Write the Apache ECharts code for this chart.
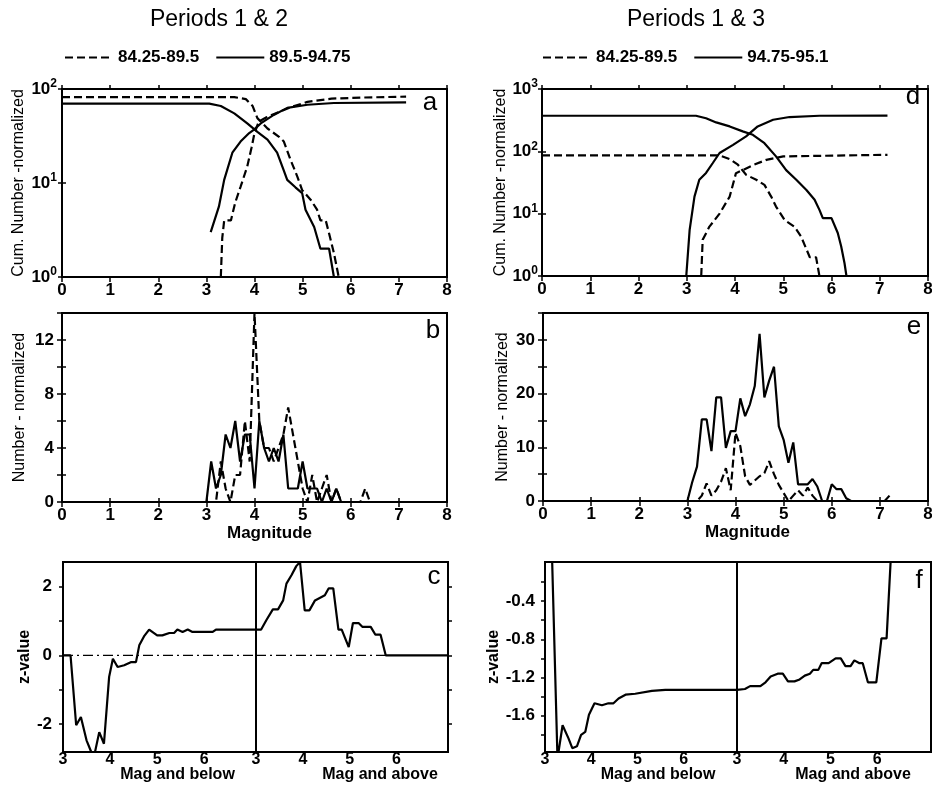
<!DOCTYPE html>
<html>
<head>
<meta charset="utf-8">
<script src="https://cdn.jsdelivr.net/npm/echarts@6/dist/echarts.min.js"></script>
<style>
  html, body {margin: 0; padding: 0; background: #fff;}
  #chart {width: 932px; height: 789px;}
</style>
</head>
<body>
<div id="chart"></div>
<script>
// ---- panel a: cumulative number, periods 1 & 2  [magnitude, count] ----
const aDashDown = [[0, 82], [3.58, 82], [3.82, 78], [3.96, 66], [4.06, 49], [4.27, 38], [4.51, 31], [4.61, 27.6],
  [4.75, 17.6], [4.89, 11.7], [4.99, 8.4], [5.17, 6.6], [5.3, 5.2], [5.37, 4], [5.48, 4], [5.55, 2.9], [5.65, 1.8], [5.75, 1]];
const aDashUp = [[3.3, 1], [3.33, 2.6], [3.37, 4], [3.51, 4], [3.6, 6.2], [3.71, 9.1], [3.85, 15], [3.94, 24],
  [4.0, 34], [4.09, 45], [4.25, 50], [4.47, 56], [4.75, 64], [5.1, 73], [5.6, 79], [6.2, 81], [7.15, 83]];
const aSolidDown = [[0, 70], [3.06, 70], [3.3, 66], [3.58, 55], [3.85, 43], [4.06, 35], [4.27, 29], [4.47, 21],
  [4.6, 14], [4.68, 10.8], [4.85, 9], [4.99, 7.8], [5.06, 5.2], [5.24, 3.4], [5.37, 2], [5.55, 2], [5.65, 1]];
const aSolidUp = [[3.09, 3], [3.26, 5.6], [3.37, 10.8], [3.54, 21], [3.71, 27.6], [3.89, 34], [3.99, 37], [4.13, 43],
  [4.4, 53], [4.68, 63], [5.1, 68], [5.65, 71], [7.15, 72]];

// ---- panel b: number per 0.1 magnitude bin, periods 1 & 2 ----
const bMag = [3.0, 3.1, 3.2, 3.3, 3.4, 3.5, 3.6, 3.7, 3.8, 3.9, 4.0, 4.1, 4.2, 4.3, 4.4, 4.5, 4.6, 4.7, 4.8, 4.9,
  5.0, 5.1, 5.2, 5.3, 5.4, 5.5, 5.6, 5.7, 5.8, 5.9, 6.0, 6.1, 6.2, 6.3, 6.4];
const bSolid = [0, 3, 1, 2, 5, 4, 6, 3, 5, 5, 1, 6, 4, 3, 4, 3, 5, 1, 1, 1, 3, 1, 1, 1, 0, 1, 0, 1, 0, 0, 0, 0, 0, 0, 0];
const bDash = [0, 0, 0, 3, 1, 0, 2, 2, 6, 3, 14, 6, 4, 4, 3, 4, 5, 7, 5, 3, 1, 0, 2, 0, 1, 2, 0, 1, 0, 0, 0, 0, 0, 1, 0];

// ---- panel c: z-value, periods 1 & 2 ----
const cBelow = [[3.0, 0], [3.16, 0], [3.28, -2.04], [3.38, -1.8], [3.5, -2.48], [3.6, -2.82], [3.68, -2.82],
  [3.77, -2.24], [3.87, -2.58], [3.98, -0.63], [4.06, -0.1], [4.16, -0.34], [4.3, -0.29], [4.44, -0.2], [4.55, -0.2],
  [4.62, 0.29], [4.72, 0.55], [4.83, 0.75], [5.0, 0.58], [5.11, 0.58], [5.26, 0.65], [5.36, 0.65], [5.43, 0.75],
  [5.54, 0.68], [5.65, 0.75], [5.75, 0.68], [6.18, 0.68], [6.25, 0.75], [7.1, 0.75]];
const cAbove = [[3.0, 0.75], [3.11, 0.75], [3.22, 1.02], [3.36, 1.34], [3.47, 1.34], [3.58, 1.6], [3.65, 2.09],
  [3.76, 2.34], [3.86, 2.6], [3.94, 2.72], [4.04, 1.31], [4.14, 1.31], [4.26, 1.6], [4.4, 1.7], [4.47, 1.75],
  [4.55, 1.95], [4.65, 1.95], [4.76, 0.75], [4.83, 0.75], [4.98, 0.24], [5.07, 0.94], [5.19, 0.94], [5.27, 0.83],
  [5.45, 0.83], [5.55, 0.6], [5.66, 0.6], [5.77, 0], [7.1, 0]];
const cZeroBelow = [[3.0, 0], [7.1, 0]];
const cZeroAbove = [[3.0, 0], [5.77, 0]];

// ---- panel d: cumulative number, periods 1 & 3 ----
const dDashDown = [[0, 86], [3.68, 86], [3.89, 75], [4.06, 61], [4.23, 42], [4.44, 35], [4.61, 29], [4.75, 18.8],
  [4.85, 13], [5.03, 7.9], [5.23, 6.2], [5.37, 4.3], [5.55, 2], [5.68, 2], [5.75, 1]];
const dDashUp = [[3.3, 1], [3.33, 3.8], [3.47, 6.2], [3.68, 10], [3.89, 18.8], [4.02, 44.7], [4.16, 50], [4.37, 60],
  [4.65, 73], [5.0, 83], [7.16, 88]];
const dSolidDown = [[0, 372], [3.19, 372], [3.4, 340], [3.61, 291], [3.89, 251], [4.16, 209], [4.37, 184], [4.61, 135],
  [4.85, 83], [5.06, 50], [5.27, 35], [5.48, 24], [5.65, 16.7], [5.75, 11.5], [5.82, 8.5], [6.0, 8.5], [6.13, 4.9],
  [6.2, 3], [6.27, 1.6], [6.31, 1]];
const dSolidUp = [[2.99, 1], [3.06, 5.5], [3.16, 18.8], [3.26, 35], [3.4, 45], [3.54, 65], [3.68, 94], [3.96, 127],
  [4.23, 174], [4.47, 251], [4.79, 321], [5.13, 355], [5.75, 372], [7.16, 375]];

// ---- panel e: number per 0.1 magnitude bin, periods 1 & 3 ----
const eMag = [3.0, 3.1, 3.2, 3.3, 3.4, 3.5, 3.6, 3.7, 3.8, 3.9, 4.0, 4.1, 4.2, 4.3, 4.4, 4.5, 4.6, 4.7, 4.8, 4.9,
  5.0, 5.1, 5.2, 5.3, 5.4, 5.5, 5.6, 5.7, 5.8, 5.9, 6.0, 6.1, 6.2, 6.3, 6.4, 6.5, 6.6, 6.7, 6.8, 6.9, 7.0, 7.1, 7.2];
const eSolid = [0, 3.5, 6.4, 15.2, 15.2, 9.3, 19.3, 19.3, 9.9, 13, 13, 19.1, 15.8, 18, 21.4, 31.1, 19.3, 22.4, 25, 13.9,
  11.4, 7.1, 10.9, 3.1, 3.1, 3.1, 4.1, 2.7, 0, 0, 3.1, 2.2, 2.2, 0.5, 0, 0, 0, 0, 0, 0, 0, 0, 1];
const eDash = [0, 0, 0, 1, 3.3, 1, 2, 3.6, 6.1, 2, 12.7, 10.2, 4.6, 3, 3.8, 4.6, 5.2, 7.4, 5, 3,
  1.5, 0, 1, 2, 1, 2.5, 1, 0, 0, 0, 0, 0, 0, 0, 0, 0, 0, 0, 0, 0, 0, 0, 0];

// ---- panel f: z-value, periods 1 & 3 ----
const fBelow = [[3.15, 0.1], [3.27, -2.05], [3.38, -1.7], [3.51, -1.84], [3.59, -1.94], [3.69, -1.92], [3.78, -1.8],
  [3.87, -1.77], [3.95, -1.59], [4.07, -1.47], [4.23, -1.49], [4.37, -1.47], [4.48, -1.47], [4.59, -1.42],
  [4.74, -1.38], [4.95, -1.37], [5.31, -1.34], [5.6, -1.33], [7.15, -1.33]];
const fAbove = [[3.0, -1.33], [3.17, -1.32], [3.28, -1.29], [3.5, -1.29], [3.61, -1.25], [3.72, -1.19], [3.87, -1.16],
  [3.98, -1.16], [4.09, -1.24], [4.23, -1.24], [4.34, -1.22], [4.45, -1.18], [4.56, -1.16], [4.63, -1.12],
  [4.74, -1.12], [4.81, -1.05], [4.96, -1.05], [5.11, -1.0], [5.22, -1.0], [5.32, -1.08], [5.43, -1.08],
  [5.51, -1.02], [5.62, -1.05], [5.69, -1.05], [5.8, -1.25], [5.98, -1.25], [6.09, -0.79], [6.2, -0.79], [6.29, 0.05]];

// tick labels
const zTicksC = [-2, 0, 2];
const zMinorC = [-2, -1, 0, 1, 2];
const zTicksF = [-0.4, -0.8, -1.2, -1.6];
const zMinorF = [-0.2, -0.4, -0.6, -0.8, -1.0, -1.2, -1.4, -1.6, -1.8];
const halfMagTicks = [3, 4, 5, 6];

const font = 'Liberation Sans, Arial, sans-serif';
const black = '#000';

const grid = (left, top, width, height) => ({
  left, top, width, height, show: true, borderColor: black, borderWidth: 2, outerBoundsMode: 'none'
});

const tick = (len, show = true) => ({show, inside: false, length: len, lineStyle: {color: black, width: 1.5}});
const labelStyle = (size, margin) => ({fontFamily: font, fontSize: size, fontWeight: 'bold', color: black, margin});

function axis(gridIndex, position, type, min, max, more) {
  return Object.assign({
    type, gridIndex, position, min, max,
    splitLine: {show: false},
    axisLine: {show: false},
    axisTick: tick(4),
    axisLabel: {show: false},
  }, more);
}

const logLabel = (margin) => Object.assign(labelStyle(17, margin), {
  formatter: v => '10{s|' + Math.round(Math.log10(v)) + '}',
  rich: {s: {fontFamily: font, fontSize: 12, fontWeight: 'bold', color: black, padding: [0, 0, 10, 0]}}
});
const nameStyle = (size, weight, pad) => ({fontFamily: font, fontSize: size, fontWeight: weight, color: black, padding: pad || 0});

const magAxis = (g, more) => axis(g, 'bottom', 'value', 0, 8, Object.assign({
  interval: 1, axisTick: tick(5), axisLabel: labelStyle(17, 5)
}, more));
const topAxis = g => axis(g, 'top', 'value', 0, 8, {interval: 1});
const halfAxis = (g, max, name, pad) => axis(g, 'bottom', 'value', 3, max, {
  axisTick: {show: false},
  axisLabel: Object.assign(labelStyle(16, 0), {customValues: halfMagTicks}),
  name, nameLocation: 'middle', nameGap: 15, nameMoveOverlap: false,
  nameTextStyle: nameStyle(16, 'bold', [0, 0, 0, pad])
});

const xAxes = [
  magAxis(0),
  magAxis(1, {name: 'Magnitude', nameLocation: 'middle', nameGap: 20, nameTextStyle: nameStyle(17, 'bold', [0, 0, 0, 30])}),
  halfAxis(2, 7.1, 'Mag and below', 36),
  halfAxis(3, 7.1, 'Mag and above', 56),
  magAxis(4),
  magAxis(5, {name: 'Magnitude', nameLocation: 'middle', nameGap: 20, nameTextStyle: nameStyle(17, 'bold', [0, 0, 0, 24])}),
  halfAxis(6, 7.15, 'Mag and below', 34),
  halfAxis(7, 7.15, 'Mag and above', 38),
  topAxis(0), topAxis(1), topAxis(4), topAxis(5)
];

const yAxes = [
  axis(0, 'left', 'log', 1, 100, {logBase: 10, axisLabel: logLabel(5), axisTick: tick(4),
    name: 'Cum. Number -normalized', nameLocation: 'middle', nameGap: 35, nameTextStyle: nameStyle(16, 'normal')}),
  axis(1, 'left', 'value', 0, 14, {interval: 2, axisTick: tick(5),
    axisLabel: Object.assign(labelStyle(17, 8), {formatter: v => (v % 4 === 0 ? v : '')}),
    name: 'Number - normalized', nameLocation: 'middle', nameGap: 34, nameTextStyle: nameStyle(16, 'normal')}),
  axis(2, 'left', 'value', -2.82, 2.72, {axisTick: Object.assign(tick(4), {customValues: zMinorC}),
    axisLabel: Object.assign(labelStyle(17, 11), {customValues: zTicksC}),
    name: 'z-value', nameLocation: 'middle', nameGap: 27, nameTextStyle: nameStyle(16, 'bold')}),
  axis(3, 'right', 'value', -2.82, 2.72, {axisTick: Object.assign(tick(4), {customValues: zMinorC})}),
  axis(4, 'left', 'log', 1, 1000, {logBase: 10, axisLabel: logLabel(4), axisTick: tick(4),
    name: 'Cum. Number -normalized', nameLocation: 'middle', nameGap: 31, nameTextStyle: nameStyle(16, 'normal')}),
  axis(5, 'left', 'value', 0, 35, {interval: 5, axisTick: tick(5),
    axisLabel: Object.assign(labelStyle(17, 8), {formatter: v => (v % 10 === 0 ? v : '')}),
    name: 'Number - normalized', nameLocation: 'middle', nameGap: 32, nameTextStyle: nameStyle(16, 'normal')}),
  axis(6, 'left', 'value', -1.98, 0.01, {axisTick: Object.assign(tick(4), {customValues: zMinorF}),
    axisLabel: Object.assign(labelStyle(17, 10), {customValues: zTicksF, formatter: v => v.toFixed(1)}),
    name: 'z-value', nameLocation: 'middle', nameGap: 37, nameTextStyle: nameStyle(16, 'bold')}),
  axis(7, 'right', 'value', -1.98, 0.01, {axisTick: Object.assign(tick(4), {customValues: zMinorF})}),
  axis(0, 'right', 'log', 1, 100, {logBase: 10}),
  axis(1, 'right', 'value', 0, 14, {interval: 2}),
  axis(4, 'right', 'log', 1, 1000, {logBase: 10}),
  axis(5, 'right', 'value', 0, 35, {interval: 5})
];

const dashed = [8, 4];
function line(name, data, idx, type) {
  return {
    name, type: 'line', data, xAxisIndex: idx, yAxisIndex: idx,
    symbol: 'none', silent: true, clip: true, color: black,
    lineStyle: {color: black, width: 2.2, type: type || 'solid'}
  };
}
const pairs = (mags, vals) => mags.map((m, i) => [m, vals[i]]);

const P1 = '84.25-89.5', P2 = '89.5-94.75', P3 = '94.75-95.1';

const series = [
  line(P1, aDashDown, 0, dashed), line(P1, aDashUp, 0, dashed),
  line(P2, aSolidDown, 0), line(P2, aSolidUp, 0),
  line(P1, pairs(bMag, bDash), 1, dashed), line(P2, pairs(bMag, bSolid), 1),
  line('zero', cZeroBelow, 2, [10, 4, 2, 4]), line('z12', cBelow, 2),
  line('zero', cZeroAbove, 3, [10, 4, 2, 4]), line('z12', cAbove, 3),
  line(P1, dDashDown, 4, dashed), line(P1, dDashUp, 4, dashed),
  line(P3, dSolidDown, 4), line(P3, dSolidUp, 4),
  line(P1, pairs(eMag, eDash), 5, dashed), line(P3, pairs(eMag, eSolid), 5),
  line('z13', fBelow, 6), line('z13', fAbove, 7)
];
series.filter(s => s.name === 'zero').forEach(s => { s.lineStyle.width = 1.2; });

const legendText = {fontFamily: font, fontSize: 17, fontWeight: 'bold', color: black};
const legendBase = {
  top: 44, itemWidth: 48, itemHeight: 10, itemGap: 16, selectedMode: false,
  itemStyle: {opacity: 0}, textStyle: legendText
};

const text = (x, y, t, size) => ({
  type: 'text', x, y, silent: true,
  style: {text: t, fill: black, fontFamily: font, fontSize: size, align: 'center', verticalAlign: 'middle'}
});

const chart = echarts.init(document.getElementById('chart'));
chart.setOption({
  backgroundColor: '#fff',
  animation: false,
  legend: [
    Object.assign({data: [P1, P2], left: 59}, legendBase),
    Object.assign({data: [P1, P3], left: 537}, legendBase)
  ],
  grid: [
    grid(62, 89, 385, 188),
    grid(62, 313, 385, 189),
    grid(63, 562, 193, 190),
    grid(256, 562, 192, 190),
    grid(542, 89, 386, 187),
    grid(543, 313, 385, 188),
    grid(545, 562, 192, 190),
    grid(737, 562, 194, 190)
  ],
  xAxis: xAxes,
  yAxis: yAxes,
  series,
  graphic: [
    text(219, 20, 'Periods 1 & 2', 23),
    text(696, 20, 'Periods 1 & 3', 23),
    text(430, 103, 'a', 26),
    text(433, 331, 'b', 26),
    text(434, 577, 'c', 26),
    text(913, 97, 'd', 26),
    text(914, 327, 'e', 26),
    text(919, 581, 'f', 26)
  ]
});
</script>
</body>
</html>
